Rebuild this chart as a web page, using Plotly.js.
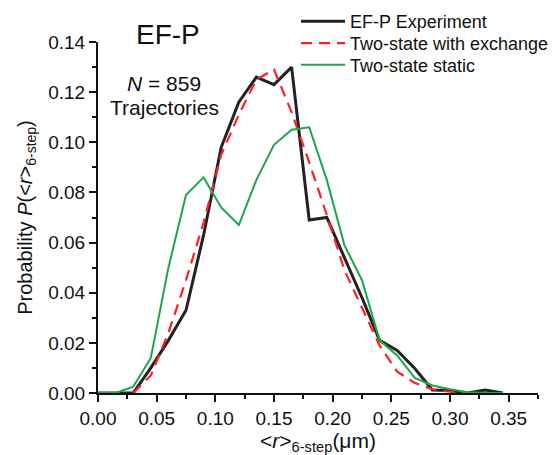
<!DOCTYPE html>
<html>
<head>
<meta charset="utf-8">
<script src="https://cdn.plot.ly/plotly-3.0.1.min.js"></script>
<style>html,body{margin:0;padding:0;background:#fff;}#chart{width:558px;height:455px;}</style>
</head>
<body>
<div id="chart"></div>
<script>
// Bin centres (µm)
const binCentres = [0.000,0.015,0.030,0.045,0.060,0.075,0.090,0.105,0.120,0.135,0.150,0.165,0.180,0.195,0.210,0.225,0.240,0.255,0.270,0.285,0.300,0.315,0.330,0.345];
// EF-P Experiment
const experiment = [0,0,0,0.010,0.021,0.033,0.063,0.098,0.116,0.126,0.123,0.130,0.069,0.070,0.054,0.038,0.021,0.017,0.0098,0.0012,0.001,0.0,0.0012,0.0];
// Two-state with exchange
const exchange = [null,null,0,0.007,0.024,0.045,0.068,0.095,0.111,0.125,0.129,0.112,0.092,0.071,0.049,0.034,0.019,0.0085,0.004,0.0015,0.0005,0,0,0];
// Two-state static
const staticModel = [0,0,0.0025,0.014,0.050,0.079,0.086,0.074,0.067,0.085,0.099,0.105,0.106,0.085,0.059,0.045,0.021,0.015,0.006,0.003,0.0015,0.0003,0,0];

const seriesNames = ['EF-P Experiment','Two-state with exchange','Two-state static'];
const xTicks = [0,0.05,0.10,0.15,0.20,0.25,0.30,0.35];
const yTicks = [0,0.02,0.04,0.06,0.08,0.10,0.12,0.14];

const FONT = 'Arial, "Liberation Sans", Helvetica, sans-serif';

const traces = [
  {x: binCentres, y: experiment, name: seriesNames[0], mode: 'lines', legend: 'legend',
   line: {color: '#222222', width: 3}},
  {x: binCentres, y: exchange, name: seriesNames[1], mode: 'lines', legend: 'legend2',
   line: {color: '#ff2020', width: 2.2, dash: '11px,7px'}},
  {x: binCentres, y: staticModel, name: seriesNames[2], mode: 'lines', legend: 'legend3',
   line: {color: '#1da64a', width: 2}}
];

function legendAt(yPaper) {
  return {x: 0.45, y: yPaper, xanchor: 'left', yanchor: 'middle',
          bgcolor: 'rgba(0,0,0,0)', borderwidth: 0,
          font: {size: 18, family: FONT, color: '#111'}, itemwidth: 44};
}

const layout = {
  width: 558, height: 455,
  margin: {l: 98, r: 20, t: 42, b: 62, autoexpand: false},
  paper_bgcolor: '#fff', plot_bgcolor: '#fff',
  font: {family: FONT, color: '#111', size: 19},
  showlegend: true,
  legend: legendAt(1.058),
  legend2: legendAt(0.996),
  legend3: legendAt(0.934),
  xaxis: {
    range: [0, 0.375], tickvals: xTicks, tickformat: '.2f',
    showgrid: false, zeroline: false, showline: true, linecolor: '#111', linewidth: 2,
    ticks: 'outside', ticklen: 7, tickwidth: 2, tickcolor: '#111',
    tickfont: {size: 19, family: FONT},
    minor: {dtick: 0.025, tick0: 0, ticks: 'outside', ticklen: 4, tickwidth: 2, tickcolor: '#111', showgrid: false},
    title: {text: '&lt;<i>r</i>&gt;<sub>6-step</sub>(μm)', font: {size: 21, family: FONT}, standoff: 2},
    fixedrange: true
  },
  yaxis: {
    range: [0, 0.14], tickvals: yTicks, tickformat: '.2f',
    showgrid: false, zeroline: false, showline: true, linecolor: '#111', linewidth: 2,
    ticks: 'outside', ticklen: 7, tickwidth: 2, tickcolor: '#111',
    tickfont: {size: 19, family: FONT},
    minor: {dtick: 0.01, tick0: 0, ticks: 'outside', ticklen: 4, tickwidth: 2, tickcolor: '#111', showgrid: false},
    title: {text: 'Probability <i>P</i>(&lt;<i>r</i>&gt;<sub>6-step</sub>)', font: {size: 20, family: FONT}, standoff: 10},
    fixedrange: true
  },
  annotations: [
    {text: 'EF-P', xref: 'paper', yref: 'paper', x: 0.159, y: 1.02, showarrow: false,
     font: {size: 28, family: FONT, color: '#111'}, xanchor: 'center', yanchor: 'middle'},
    {text: '<i>N</i> = 859', xref: 'paper', yref: 'paper', x: 0.15, y: 0.883, showarrow: false,
     font: {size: 21, family: FONT, color: '#111'}, xanchor: 'center', yanchor: 'middle'},
    {text: 'Trajectories', xref: 'paper', yref: 'paper', x: 0.152, y: 0.812, showarrow: false,
     font: {size: 21, family: FONT, color: '#111'}, xanchor: 'center', yanchor: 'middle'}
  ]
};

Plotly.newPlot('chart', traces, layout, {displayModeBar: false, staticPlot: true});
</script>
</body>
</html>
